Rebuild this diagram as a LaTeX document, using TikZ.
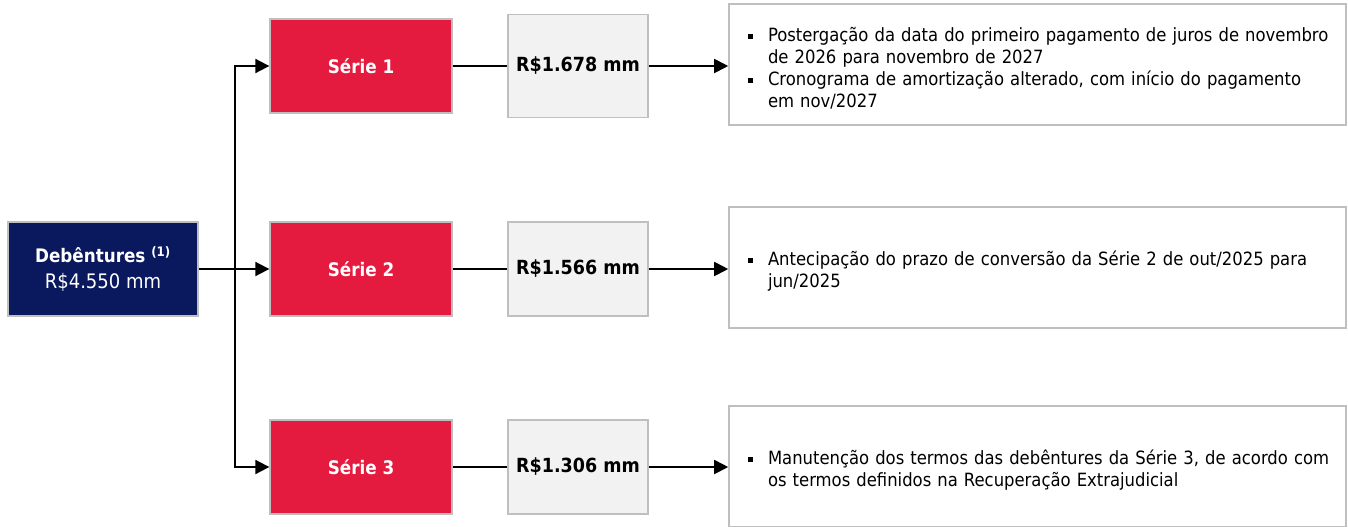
\documentclass[tikz,border=0pt]{standalone}
\usepackage{fontspec}
\setmainfont{DejaVu Sans Condensed}
\usetikzlibrary{arrows.meta}

\definecolor{debnavy}{RGB}{10,24,94}
\definecolor{serired}{RGB}{228,27,62}
\definecolor{valfill}{RGB}{242,242,242}
\definecolor{boxline}{RGB}{191,191,191}

\newcommand{\basefont}{\fontsize{13.7}{16.5}\selectfont}
\newcommand{\notebullet}[2]{\par\noindent\hangindent=15pt\hangafter=1%
  \makebox[15pt][l]{\raisebox{1.9pt}{\rule{3.6pt}{3.6pt}}}\mbox{#1}\newline #2\par}

\begin{document}
\begin{tikzpicture}[x=0.75pt,y=-0.75pt,
   every node/.style={draw=boxline,line width=1pt,font=\basefont},
   debbox/.style={fill=debnavy,text=white,font=\fontsize{14}{19.5}\selectfont,
                  minimum width=142.5pt,minimum height=70.5pt,align=center},
   seriebox/.style={fill=serired,text=white,font=\fontsize{14}{16.5}\selectfont\bfseries,
                    minimum width=136.5pt,minimum height=70.5pt},
   valbox/.style={fill=valfill,font=\fontsize{14.6}{16.5}\selectfont\bfseries,
                  minimum width=105pt,minimum height=70.5pt},
   notebox/.style={fill=white,line width=1.2pt,minimum width=462.75pt,minimum height=90.75pt,
                   text width=434.25pt,inner xsep=14.25pt,align=left},
   flow/.style={line width=1.4pt,-{Triangle[length=10.5pt,width=10.5pt]}},
   link/.style={line width=1.4pt}]

\useasboundingbox (0,0) rectangle (1348,526);

% origem
\node[debbox] (deb) at (103,269)
  {\textbf{Debêntures \textsuperscript{(1)}}\\{\fontsize{15}{19.5}\selectfont R\$4.550 mm}};
\coordinate (split) at (235,269);

% series
\node[seriebox] (s1) at (361,66) {Série 1};
\node[seriebox] (s2) at (361,269) {Série 2};
\node[seriebox] (s3) at (361,467) {Série 3};

% valores
\node[valbox,minimum height=77.25pt] (v1) at (578,66) {R\$1.678 mm};
\node[valbox] (v2) at (578,269) {R\$1.566 mm};
\node[valbox] (v3) at (578,467) {R\$1.306 mm};

% notas
\node[notebox] (n1) at (1037.5,64.5) {%
  \notebullet{Postergação da data do primeiro pagamento de juros de novembro}{de 2026 para novembro de 2027}
  \notebullet{Cronograma de amortização alterado, com início do pagamento}{em nov/2027}};
\node[notebox] (n2) at (1037.5,267.5) {%
  \notebullet{Antecipação do prazo de conversão da Série 2 de out/2025 para}{jun/2025}};
\node[notebox] (n3) at (1037.5,466.5) {%
  \notebullet{Manutenção dos termos das debêntures da Série 3, de acordo com}{os termos definidos na Recuperação Extrajudicial}};

% conexoes
\draw[flow] (deb) -- (s2);
\draw[flow] (split) |- (s1);
\draw[flow] (split) |- (s3);
\draw[link] (s1) -- (v1);
\draw[link] (s2) -- (v2);
\draw[link] (s3) -- (v3);
\draw[flow] (v1.east) -- (v1.east -| n1.west);
\draw[flow] (v2.east) -- (v2.east -| n2.west);
\draw[flow] (v3.east) -- (v3.east -| n3.west);

\end{tikzpicture}
\end{document}
